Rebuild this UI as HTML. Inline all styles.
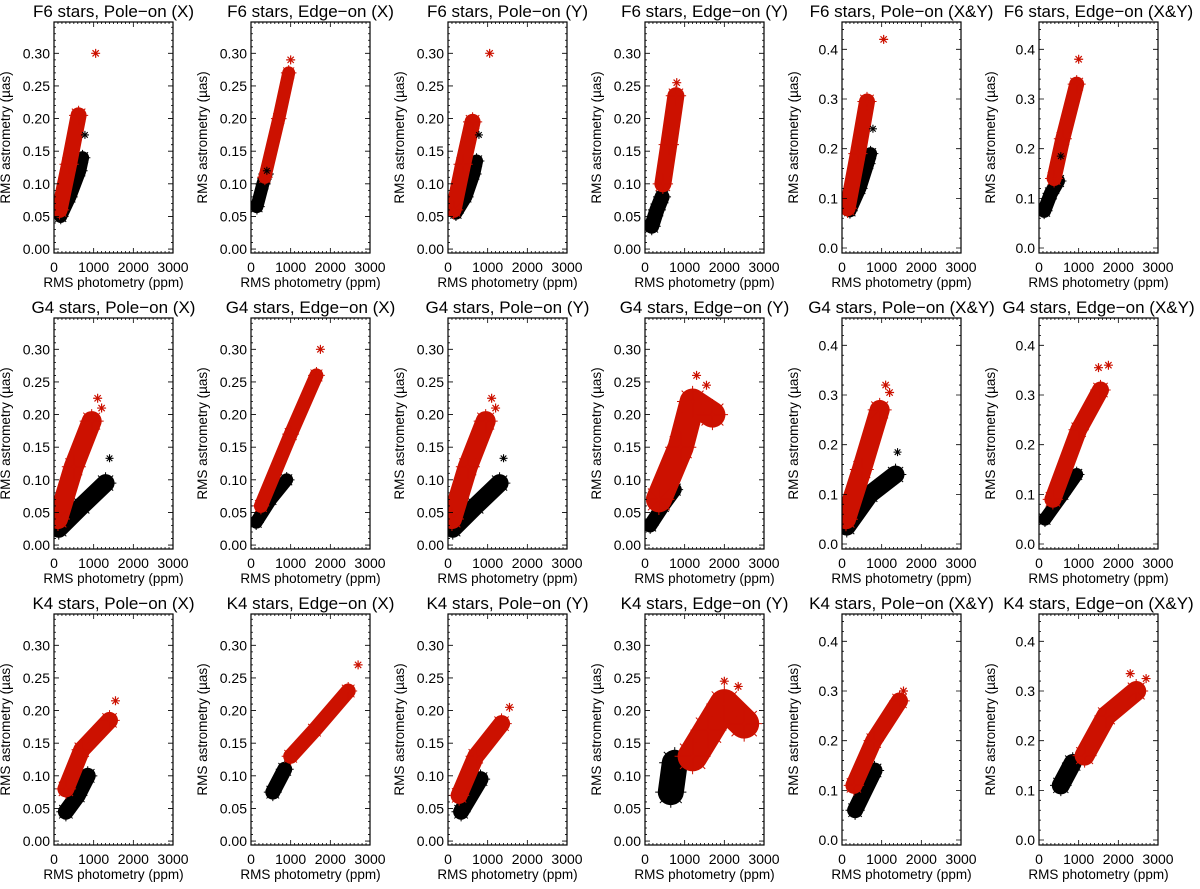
<!DOCTYPE html>
<html><head><meta charset="utf-8">
<style>
body{margin:0;background:#fff;}
svg{display:block;font-family:"Liberation Sans",sans-serif;}
</style></head>
<body>
<svg id="chart" width="1200" height="889" viewBox="0 0 1200 889" xmlns="http://www.w3.org/2000/svg"></svg>
<script>
// Panel titles
const titles = [
 "F6 stars, Pole\u2212on (X)","F6 stars, Edge\u2212on (X)","F6 stars, Pole\u2212on (Y)","F6 stars, Edge\u2212on (Y)","F6 stars, Pole\u2212on (X&Y)","F6 stars, Edge\u2212on (X&Y)",
 "G4 stars, Pole\u2212on (X)","G4 stars, Edge\u2212on (X)","G4 stars, Pole\u2212on (Y)","G4 stars, Edge\u2212on (Y)","G4 stars, Pole\u2212on (X&Y)","G4 stars, Edge\u2212on (X&Y)",
 "K4 stars, Pole\u2212on (X)","K4 stars, Edge\u2212on (X)","K4 stars, Pole\u2212on (Y)","K4 stars, Edge\u2212on (Y)","K4 stars, Pole\u2212on (X&Y)","K4 stars, Edge\u2212on (X&Y)"
];
const xTicks = [0,1000,2000,3000];
const yTicksSmall = [0,0.05,0.10,0.15,0.20,0.25,0.30];
const yTicksLarge = [0,0.1,0.2,0.3,0.4];
// Black cloud spines (ppm, uas) per panel
const blackX = [
 [170,400,650,720],[150,300,380],[200,450,650,720],[170,300,430],[200,450,650,720],[130,300,480],
 [120,700,1300],[130,500,900],[120,700,1300],[130,450,750],[120,700,1350],[150,600,950],
 [300,600,850],[550,850],[330,820],[650,750],[330,820],[550,850]];
const blackY = [
 [0.05,0.08,0.12,0.14],[0.065,0.1,0.115],[0.055,0.08,0.115,0.135],[0.035,0.06,0.08],[0.075,0.12,0.17,0.19],[0.075,0.11,0.135],
 [0.025,0.06,0.095],[0.035,0.07,0.1],[0.025,0.06,0.095],[0.03,0.06,0.085],[0.035,0.1,0.14],[0.05,0.1,0.14],
 [0.045,0.07,0.1],[0.075,0.11],[0.045,0.095],[0.075,0.12],[0.06,0.14],[0.11,0.155]];
const blackW = [13,13,13,15,13,14, 18,13,18,14,18,13, 16,15,16,26,16,18];
// Red cloud spines
const redX = [
 [140,380,620],[350,700,950],[140,380,620],[450,600,780],[140,400,630],[380,600,950],
 [100,500,950],[250,1000,1650],[100,500,950],[350,900,1200,1700],[100,500,950],[350,1000,1550],
 [300,700,1400],[1000,1600,2450],[280,700,1350],[1200,1600,2000,2500],[300,800,1450],[1150,1700,2450]];
const redY = [
 [0.06,0.13,0.205],[0.11,0.2,0.27],[0.06,0.13,0.195],[0.1,0.16,0.235],[0.08,0.19,0.295],[0.14,0.22,0.33],
 [0.04,0.12,0.19],[0.06,0.17,0.26],[0.04,0.12,0.19],[0.07,0.15,0.22,0.2],[0.05,0.15,0.27],[0.09,0.23,0.31],
 [0.08,0.14,0.185],[0.13,0.17,0.23],[0.07,0.13,0.18],[0.13,0.17,0.21,0.18],[0.11,0.2,0.28],[0.17,0.25,0.3]];
const redW = [16,13,16,17,16,15, 20,14,20,26,20,17, 17,15,17,30,17,20];
// Outliers
const outRedX = [[1050],[1000],[1050],[800],[1050],[1000],[1100,1200],[1750],[1100,1200],[1300,1550],[1100,1200],[1500,1750],[1550],[2700],[1550],[2000,2350],[1550],[2300,2700]];
const outRedY = [[0.30],[0.29],[0.30],[0.255],[0.42],[0.38],[0.225,0.21],[0.30],[0.225,0.21],[0.26,0.245],[0.32,0.305],[0.355,0.36],[0.215],[0.27],[0.205],[0.245,0.237],[0.30],[0.335,0.325]];
const outBlackX = [[780],[400],[780],[],[780],[550],[1400],[],[1400],[],[1400],[],[],[],[],[],[],[]];
const outBlackY = [[0.175],[0.12],[0.175],[],[0.24],[0.185],[0.133],[],[0.133],[],[0.185],[],[],[],[],[],[],[]];

const NS="http://www.w3.org/2000/svg";
const svg=document.getElementById('chart');
function mk(tag,attrs,parent){const e=document.createElementNS(NS,tag);for(const k in attrs)e.setAttribute(k,attrs[k]);(parent||svg).appendChild(e);return e;}
const colL=[54,251,448,645,842,1039], rowT=[22,318,614], W=119, H=231;
function star(g,cx,cy,r,col,sw){
  const d=`M${cx-r},${cy}H${cx+r}M${cx},${cy-r}V${cy+r}M${cx-r*0.7},${cy-r*0.7}L${cx+r*0.7},${cy+r*0.7}M${cx-r*0.7},${cy+r*0.7}L${cx+r*0.7},${cy-r*0.7}`;
  return mk('path',{d:d,stroke:col,'stroke-width':sw,fill:'none'},g);
}
for(let p=0;p<18;p++){
  const c=p%6, r=Math.floor(p/6), x0=colL[c], y0=rowT[r];
  const big=(c>=4);
  const ymin=big?-0.01:-0.006, ymax=big?0.455:0.348;
  const sx=v=>x0+v/3000*W, sy=v=>y0+H-(v-ymin)/(ymax-ymin)*H;
  const g=mk('g',{});
  
  
  const t=mk('text',{x:x0+W/2,y:y0-5,'text-anchor':'middle','font-size':17,fill:'#000'},g);
  t.textContent=titles[p];
  
  
  const cid='clip'+p;
  const cp=mk('clipPath',{id:cid},g);mk('rect',{x:x0,y:y0,width:W,height:H},cp);
  const data=mk('g',{'clip-path':`url(#${cid})`},g);
  function cloud(xs,ys,w,col,name){
    const pts=xs.map((v,i)=>sx(v).toFixed(1)+','+sy(ys[i]).toFixed(1)).join(' ');
    const pl=mk('polyline',{points:pts,fill:'none',stroke:col,'stroke-width':w,'stroke-linecap':'round','stroke-linejoin':'round'},data);
    
    
    xs.forEach((v,i)=>{const s=star(data,sx(v),sy(ys[i]),w*0.6,col,1);
      
      });
  }
  cloud(blackX[p],blackY[p],blackW[p],'#000','black-series');
  cloud(redX[p],redY[p],redW[p],'#cc1100','red-series');
  outRedX[p].forEach((v,i)=>{const s=star(data,sx(v),sy(outRedY[p][i]),4.5,'#cc1100',1.2);
    
    });
  outBlackX[p].forEach((v,i)=>{const s=star(data,sx(v),sy(outBlackY[p][i]),4,'#000',1.1);
    
    });
  const fr=mk('rect',{x:x0,y:y0,width:W,height:H,fill:'none',stroke:'#000','stroke-width':1.2},g);
  
  
  let d='';
  for(let v=0;v<=3000;v+=100){const X=sx(v),L=(v%1000===0)?5:2;d+=`M${X},${y0+H}v${-L}M${X},${y0}v${L}`;}
  const yt=big?yTicksLarge:yTicksSmall, ystep=big?0.02:0.01;
  for(let k=0;k*ystep<=ymax;k++){const v=k*ystep,Y=sy(v);const maj=yt.some(q=>Math.abs(q-v)<1e-6);const L=maj?5:2;d+=`M${x0},${Y}h${L}M${x0+W},${Y}h${-L}`;}
  mk('path',{d:d,stroke:'#000','stroke-width':0.8,fill:'none'},g);
  xTicks.forEach(v=>{const tx=mk('text',{x:sx(v),y:y0+H+19,'text-anchor':'middle','font-size':14},g);tx.textContent=String(v);
    
    });
  yt.forEach(v=>{const ty=mk('text',{x:x0-4,y:sy(v)+5,'text-anchor':'end','font-size':14},g);ty.textContent=v.toFixed(big?1:2);
    
    });
  const xa=mk('text',{x:x0+W/2,y:y0+H+34,'text-anchor':'middle','font-size':13.5},g);xa.textContent='RMS photometry (ppm)';
  
  
  const yx=x0-44, yy=y0+H/2;
  const ya=mk('text',{x:yx,y:yy,'text-anchor':'middle','font-size':13.5,transform:`rotate(-90 ${yx} ${yy})`},g);ya.textContent='RMS astrometry (\u00b5as)';
  
  
}
</script>
</body></html>
